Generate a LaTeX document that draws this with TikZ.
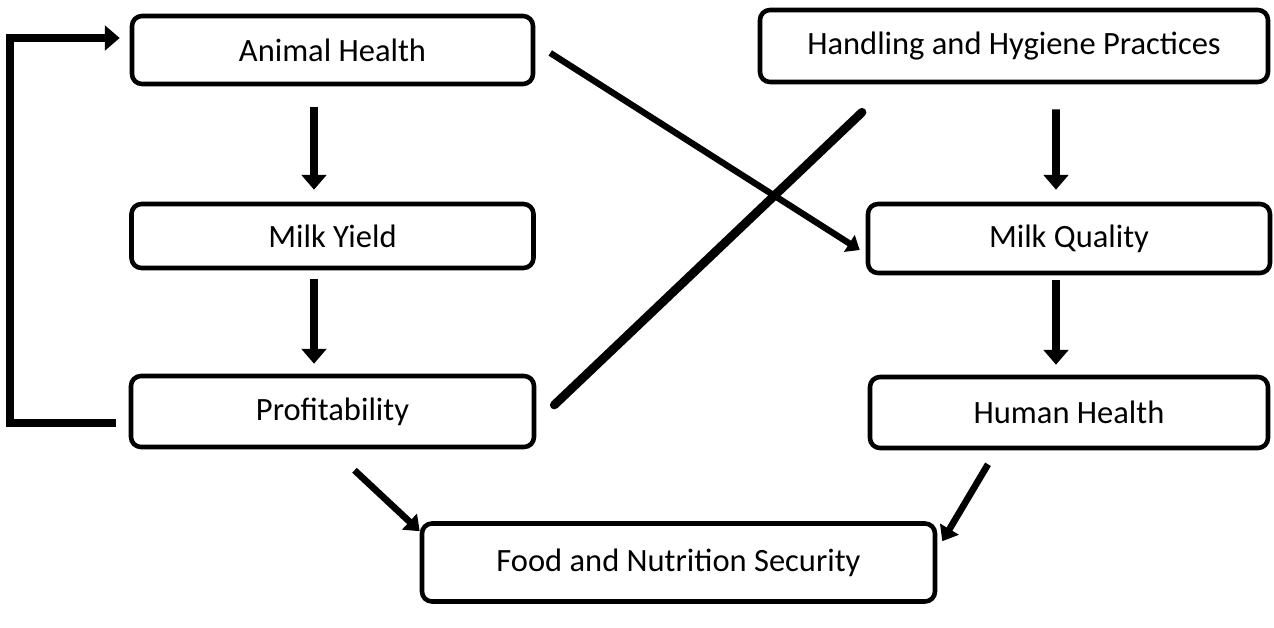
\documentclass[tikz,border=0pt]{standalone}
\usepackage{fontspec}
\setmainfont{Carlito}
\usetikzlibrary{arrows.meta}
\tikzset{box/.style={draw, line width=2.6pt, rounded corners=0.2cm, align=center, font=\fontsize{18.5}{22}\selectfont}}
\tikzset{arr/.style={line width=4.4pt, -{Triangle[length=8.5pt,width=14pt]}}}

\begin{document}
\begin{tikzpicture}[node distance=3.6cm]
		\useasboundingbox (0,0) rectangle (25.48,-12.56);
		\node(ah)[box, minimum width=8.02cm, minimum height=1.36cm] at (6.65,-1.0){Animal Health};
		\node(my)[box, minimum width=8.04cm, minimum height=1.28cm, below of=ah, node distance=3.72cm]{Milk Yield};
		\node(prof)[box, minimum width=8.06cm, minimum height=1.42cm, below of=my, node distance=3.51cm]{Profitability};
		\node(hh)[box, minimum width=10.16cm, minimum height=1.44cm] at (20.28,-0.92){Handling and Hygiene Practices};
		\node(mq)[box, minimum width=8.04cm, minimum height=1.38cm] at (21.38,-4.77){Milk Quality};
		\node(hum)[box, minimum width=7.96cm, minimum height=1.42cm, below of=mq, node distance=3.48cm]{Human Health};
		\node(fns)[box, minimum width=10.26cm, minimum height=1.56cm] at (13.57,-11.25){Food and Nutrition Security};
		% left column
		\draw[arr]([xshift=-0.37cm,yshift=-0.42cm]ah.south) to ([xshift=-0.37cm,yshift=0.24cm]my.north);
		\draw[arr]([xshift=-0.37cm,yshift=-0.18cm]my.south) to ([xshift=-0.37cm,yshift=0.2cm]prof.north);
		\draw[arr]([xshift=-0.26cm,yshift=-0.23cm]prof.west) -- ++(-2.12,0) |- ([xshift=-0.2cm,yshift=0.24cm]ah.west);
		% right column
		\draw[arr]([xshift=0.84cm,yshift=-0.5cm]hh.south) to ([xshift=-0.26cm,yshift=0.24cm]mq.north);
		\draw[arr]([xshift=-0.26cm,yshift=-0.1cm]mq.south) to ([xshift=-0.26cm,yshift=0.2cm]hum.north);
		% crossing
		\draw[line width=3.6pt, -{Triangle[length=7pt,width=11pt]}]([xshift=0.3cm,yshift=-0.06cm]ah.east) to ([xshift=-0.12cm,yshift=-0.23cm]mq.west);
		\draw[line width=5pt, line cap=round]([xshift=0.36cm,yshift=0.13cm]prof.east) to ([xshift=-3.04cm,yshift=-0.56cm]hh.south);
		% bottom
		\draw[line width=3.8pt, -{Triangle[length=8pt,width=12pt]}]([xshift=0.44cm,yshift=-0.42cm]prof.south) to ([yshift=-0.2cm]fns.north west);
		\draw[line width=3.8pt, -{Triangle[length=8pt,width=12pt]}]([xshift=-1.62cm,yshift=-0.28cm]hum.south) to ([xshift=0.1cm,yshift=-0.4cm]fns.north east);
	\end{tikzpicture}
\end{document}
